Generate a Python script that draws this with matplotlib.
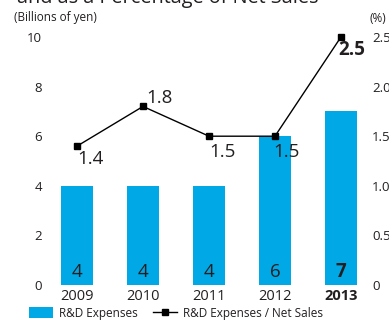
import matplotlib
matplotlib.use("Agg")
import matplotlib.pyplot as plt
from matplotlib.patches import Patch
from matplotlib.lines import Line2D

plt.rcParams['font.family'] = ['Open Sans', 'DejaVu Sans']

years = ['2009', '2010', '2011', '2012', '2013']
rd_expenses = [4, 4, 4, 6, 7]           # billions of yen
rd_ratio = [1.4, 1.8, 1.5, 1.5, 2.5]    # % of net sales

# label offsets (points) for the ratio values
ratio_offsets = [(9.5, -9.5), (12, 6), (10, -11.5), (8.5, -11.5), (7.5, -9.5)]

blue = '#00a8e6'
txt = '#231f20'

W, H = 389, 320
fig = plt.figure(figsize=(W / 100, H / 100), dpi=100)
ax = fig.add_axes([48 / W, 35 / H, 320 / W, 248 / H])
x = list(range(len(years)))

ax.bar(x, rd_expenses, width=32 / 66, color=blue, zorder=1)
ax.set_xlim(-0.44, 4.41)
ax.set_ylim(0, 10)
ax.set_yticks(range(0, 11, 2))
ax.tick_params(axis='y', length=0, pad=4.3, labelsize=9.5, labelcolor=txt)
ax.set_xticks(x)
ax.set_xticklabels(years)
ax.tick_params(axis='x', length=0, pad=3.2, labelsize=10.5, labelcolor=txt)
ax.get_xticklabels()[-1].set_fontweight('bold')
for s in ax.spines.values():
    s.set_visible(False)

for i, v in enumerate(rd_expenses):
    ax.annotate(str(v), (i, 0), xytext=(0, 5.8), textcoords='offset points',
                ha='center', va='baseline', fontsize=13.5, color=txt,
                fontweight='bold' if i == len(years) - 1 else 'normal')

ax2 = ax.twinx()
ax2.plot(x, rd_ratio, color='black', lw=1, marker='s', ms=4.2, clip_on=False, zorder=3)
ax2.set_ylim(0, 2.5)
ax2.set_yticks([0, 0.5, 1.0, 1.5, 2.0, 2.5])
ax2.set_yticklabels(['0', '0.5', '1.0', '1.5', '2.0', '2.5'])
ax2.tick_params(axis='y', length=0, pad=3, labelsize=9.5, labelcolor=txt)
for s in ax2.spines.values():
    s.set_visible(False)

for i, v in enumerate(rd_ratio):
    ax2.annotate(f'{v:.1f}', (i, v), xytext=ratio_offsets[i], textcoords='offset points',
                 ha='center', va='center', fontsize=13.5, color=txt,
                 fontweight='bold' if i == len(years) - 1 else 'normal')

# headings
fig.text(17 / W, 1 - 3 / H, 'and as a Percentage of Net Sales', fontsize=14.3,
         ha='left', va='baseline', color=txt)
fig.text(14 / W, 1 - 18 / H, '(Billions of yen)', fontsize=8.5, ha='left', va='center', color=txt)
fig.text(369 / W, 1 - 18 / H, '(%)', fontsize=8.5, ha='left', va='center', color=txt)

handles = [Patch(facecolor=blue, edgecolor='none'),
           Line2D([], [], color='black', lw=1, marker='s', ms=4.2)]
fig.legend(handles, ['R&D Expenses', 'R&D Expenses / Net Sales'],
           loc='center left', bbox_to_anchor=(29 / W, 7 / H), ncol=2, frameon=False,
           fontsize=8.5, handlelength=2.0, handleheight=1.0, handletextpad=0.55,
           columnspacing=1.3, borderpad=0, borderaxespad=0, labelcolor=txt)

fig.savefig('out.png', dpi=100)
